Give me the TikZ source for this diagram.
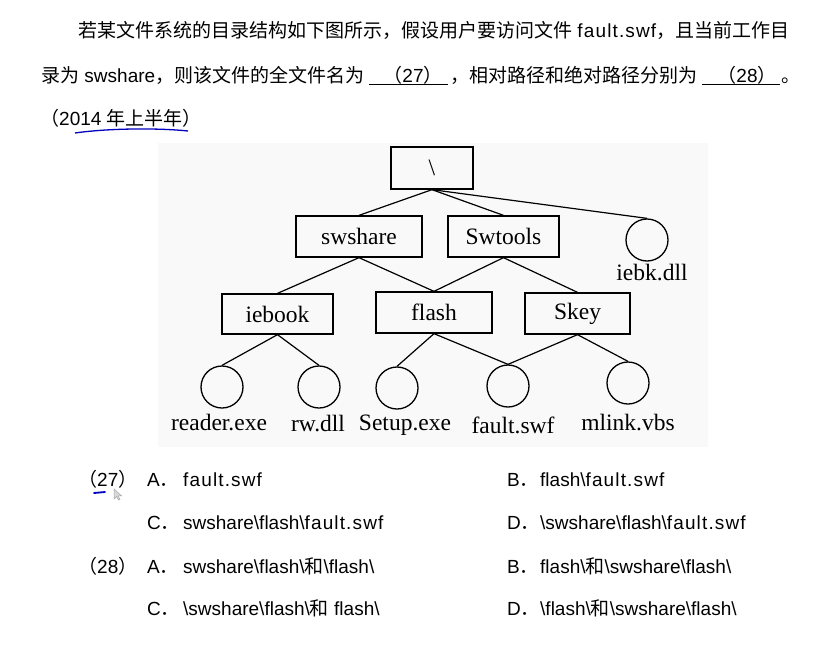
\documentclass[tikz,border=0pt]{standalone}
\usepackage{fontspec}
\setmainfont{Liberation Sans}
\newfontfamily\cjk{Noto Sans CJK SC}
\newfontfamily\tms{Liberation Serif}
\newfontfamily\spc[LetterSpace=6]{Liberation Sans}
\begin{document}
\begin{tikzpicture}[x=1pt,y=-1pt,
  txt/.style={anchor=base west,inner sep=0,font=\fontsize{19}{19}\selectfont},
  ctxt/.style={anchor=base,inner sep=0,font=\fontsize{19}{19}\selectfont},
  box/.style={draw,line width=1.3pt,inner sep=0,font=\tms\fontsize{23.5}{23.5}\selectfont},
  file/.style={draw,circle,line width=1.3pt,minimum size=42pt,inner sep=0},
  lbl/.style={inner sep=0,font=\tms\fontsize{23.5}{23.5}\selectfont},
  edge/.style={line width=1.2pt},
  uline/.style={line width=1pt},
  ink/.style={draw=blue!75!black,line width=1.8pt,line cap=round}]
\fill[white] (0,0) rectangle (830,656);
\fill[gray!5] (158,143) rectangle (708,447);
% question text
\node[txt] (l1) at (78,37) {{\cjk 若某文件系统的目录结构如下图所示，假设用户要访问文件} {\spc fault.swf}{\cjk ，且当前工作目}};
\node[txt] (l2a) at (41,82) {{\cjk 录为} swshare{\cjk ，则该文件的全文件名为}};
\node[ctxt] (l2b) at (413,82) {{\cjk （}27{\cjk ）}};
\coordinate (u1a) at (369,84.5); \coordinate (u1b) at (448,84.5);
\draw[uline] (u1a) -- (u1b);
\node[txt] (l2c) at (450,82) {\cjk ，相对路径和绝对路径分别为};
\node[ctxt] (l2d) at (747,82) {{\cjk （}28{\cjk ）}};
\coordinate (u2a) at (702,84.5); \coordinate (u2b) at (780,84.5);
\draw[uline] (u2a) -- (u2b);
\node[txt] (l2e) at (781,82) {\cjk 。};
\node[txt] (l3) at (40,125) {{\cjk （}2014 {\cjk 年上半年）}};
\coordinate (b1) at (75,133); \coordinate (b2) at (188,131);
\draw[draw=blue!75!black,line width=1.3pt] (b1) .. controls (110,128) and (160,128) .. (b2);
% tree
\node[box,minimum width=82pt,minimum height=42pt] (root) at (432,168) {\textbackslash};
\node[box,minimum width=126pt,minimum height=41pt] (sw) at (359,236.5) {swshare};
\node[box,minimum width=111pt,minimum height=41pt] (st) at (503.5,236.5) {Swtools};
\node[file] (iebk) at (647,240) {};
\node[lbl] (iebkl) at (652,273) {iebk.dll};
\node[box,minimum width=111pt,minimum height=40pt] (ieb) at (277.5,314) {iebook};
\node[box,minimum width=116pt,minimum height=41pt] (fl) at (434,312.5) {flash};
\node[box,minimum width=105pt,minimum height=41pt] (sk) at (577.5,313.5) {Skey};
\node[file] (rd) at (222,387) {};
\node[file] (rw) at (319,387) {};
\node[file] (su) at (397,388) {};
\node[file] (fs) at (508,386) {};
\node[file] (ml) at (628,383) {};
\node[lbl] (rdl) at (219,423) {reader.exe};
\node[lbl] (rwl) at (318,424) {rw.dll};
\node[lbl] (sul) at (405,425) {Setup.exe};
\node[lbl] (fsl) at (513,425) {fault.swf};
\node[lbl] (mll) at (628,423) {mlink.vbs};
\draw[edge] (root.south) -- (sw.north);
\draw[edge] (root.south) -- (st.north);
\draw[edge] (root.south) -- (iebk.north);
\draw[edge] (sw.south) -- (ieb.north);
\draw[edge] (sw.south) -- (fl.north);
\draw[edge] (st.south) -- (fl.north);
\draw[edge] (st.south) -- (sk.north);
\draw[edge] (ieb.south) -- (rd.north);
\draw[edge] (ieb.south) -- (rw.north);
\draw[edge] (fl.south) -- (su.north);
\draw[edge] (fl.south) -- (fs.north);
\draw[edge] (sk.south) -- (fs.north);
\draw[edge] (sk.south) -- (ml.north);
% options
\node[txt] (q27) at (78,486) {{\cjk （}27{\cjk ）}};
\node[txt] (a27) at (147,486) {A{\cjk ．}};
\node[txt] (a27t) at (183,486) {{\spc fault.swf}};
\node[txt] (b27) at (507,486) {B{\cjk ．}};
\node[txt] (b27t) at (540,486) {flash\textbackslash{\spc fault.swf}};
\node[txt] (c27) at (147,529) {C{\cjk ．}};
\node[txt] (c27t) at (183,529) {swshare\textbackslash flash\textbackslash{\spc fault.swf}};
\node[txt] (d27) at (507,529) {D{\cjk ．}};
\node[txt] (d27t) at (540,529) {\textbackslash swshare\textbackslash flash\textbackslash{\spc fault.swf}};
\node[txt] (q28) at (78,573) {{\cjk （}28{\cjk ）}};
\node[txt] (a28) at (147,573) {A{\cjk ．}};
\node[txt] (a28t) at (183,573) {swshare\textbackslash flash\textbackslash{\cjk 和}\textbackslash flash\textbackslash};
\node[txt] (b28) at (507,573) {B{\cjk ．}};
\node[txt] (b28t) at (540,573) {flash\textbackslash{\cjk 和}\textbackslash swshare\textbackslash flash\textbackslash};
\node[txt] (c28) at (147,615) {C{\cjk ．}};
\node[txt] (c28t) at (183,615) {\textbackslash swshare\textbackslash flash\textbackslash{\cjk 和} flash\textbackslash};
\node[txt] (d28) at (507,615) {D{\cjk ．}};
\node[txt] (d28t) at (540,615) {\textbackslash flash\textbackslash{\cjk 和}\textbackslash swshare\textbackslash flash\textbackslash};
% hand marks
\coordinate (m1) at (94,493); \coordinate (m2) at (105,492);
\draw[ink] (m1) -- (m2);
\filldraw[fill=gray!30,draw=gray!70,line width=0.5pt] (114,489) -- (114,499) -- (116.5,496.5) -- (118.5,500) -- (120,499.2) -- (118,495.8) -- (121.5,495.8) -- cycle;
\end{tikzpicture}
\end{document}
